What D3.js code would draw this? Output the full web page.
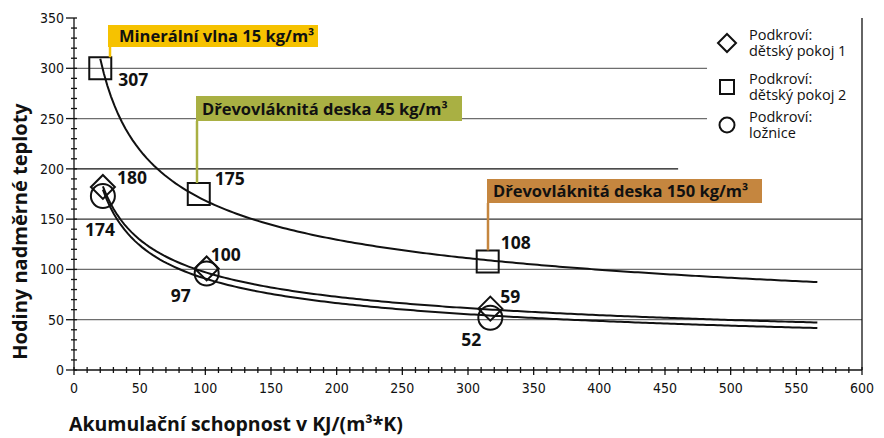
<!DOCTYPE html>
<html>
<head>
<meta charset="utf-8">
<script src="https://cdn.jsdelivr.net/npm/d3@7"></script>
<style>
  body { margin: 0; background: #fff; }
  svg { display: block; }
  .tick-label { font-family: 'Liberation Sans Narrow', 'DejaVu Sans Condensed', sans-serif; font-size: 14px; fill: #111; }
  .bold { font-family: 'Open Sans', 'Noto Sans', sans-serif; font-weight: bold; fill: #111; }
  .legend { font-family: 'Open Sans', 'Noto Sans', sans-serif; font-size: 14.5px; fill: #111; }
</style>
</head>
<body>
<div id="chart"></div>
<script>
// accumulation capacity (x) and hours of overheating (y)
const xTicks = [0, 50, 100, 150, 200, 250, 300, 350, 400, 450, 500, 550, 600]
const yTicks = [0, 50, 100, 150, 200, 250, 300, 350]

const seriesNames = [
  ['Podkroví:', 'dětský pokoj 1'],
  ['Podkroví:', 'dětský pokoj 2'],
  ['Podkroví:', 'ložnice']
]
const seriesShapes = ['diamond', 'square', 'circle']

// dětský pokoj 1
const room1X = [22, 101, 317]
const room1Y = [180, 100, 59]
const room1Drawn = [182, 101, 61]
// dětský pokoj 2
const room2X = [20, 95, 315]
const room2Y = [307, 175, 108]
const room2Drawn = [300, 175, 108]
// ložnice
const bedroomX = [22, 101, 317]
const bedroomY = [174, 97, 52]
const bedroomDrawn = [173, 96, 52]

const trendEnd = 566

const materials = ['Minerální vlna 15 kg/m³', 'Dřevovláknitá deska 45 kg/m³', 'Dřevovláknitá deska 150 kg/m³']
const materialColors = ['#f6c200', '#a9b043', '#c5863f']

const W = 884, H = 438
const x = d3.scaleLinear().domain([0, 600]).range([74, 862])
const y = d3.scaleLinear().domain([0, 350]).range([370, 18])

const svg = d3.select('#chart').append('svg').attr('width', W).attr('height', H)

// horizontal gridlines (upper ones stop where the legend sits)
const gridEnd = { 300: 482, 250: 482, 200: 460 }
const gridColor = { 200: '#111', 150: '#333' }
svg.append('g')
  .selectAll('line')
  .data(yTicks.filter(d => d > 0 && d < 350))
  .join('line')
  .attr('x1', x(0))
  .attr('x2', d => x(gridEnd[d] || 600))
  .attr('y1', d => y(d))
  .attr('y2', d => y(d))
  .attr('stroke', d => gridColor[d] || '#6e6e6e')
  .attr('stroke-width', 1.3)

// right frame
svg.append('line')
  .attr('x1', x(600)).attr('x2', x(600))
  .attr('y1', y(350)).attr('y2', y(0))
  .attr('stroke', '#111').attr('stroke-width', 1.3)

// y axis with minor ticks every 10
const yAxis = svg.append('g').attr('stroke', '#111').attr('stroke-width', 1.3)
yAxis.append('line').attr('x1', x(0)).attr('x2', x(0)).attr('y1', y(350)).attr('y2', y(0))
yAxis.selectAll('.minor')
  .data(d3.range(0, 351, 10))
  .join('line')
  .attr('x1', d => x(0) - (d % 50 === 0 ? 8 : 3))
  .attr('x2', x(0) + 3)
  .attr('y1', d => y(d)).attr('y2', d => y(d))
svg.append('g')
  .selectAll('text')
  .data(yTicks)
  .join('text')
  .attr('class', 'tick-label')
  .attr('x', x(0) - 10)
  .attr('y', d => y(d) + 5)
  .attr('text-anchor', 'end')
  .text(d => d)

// x axis
const xAxis = svg.append('g').attr('stroke', '#111').attr('stroke-width', 1.3)
xAxis.append('line').attr('x1', x(0)).attr('x2', x(600)).attr('y1', y(0)).attr('y2', y(0))
xAxis.selectAll('.minor')
  .data(d3.range(0, 601, 10))
  .join('line')
  .attr('x1', d => x(d)).attr('x2', d => x(d))
  .attr('y1', y(0) - 3)
  .attr('y2', d => y(0) + (d % 50 === 0 ? 5 : 3))
svg.append('g')
  .selectAll('text')
  .data(xTicks)
  .join('text')
  .attr('class', 'tick-label')
  .attr('x', d => x(d))
  .attr('y', 393)
  .attr('text-anchor', 'middle')
  .text(d => d)

// axis titles
svg.append('text')
  .attr('class', 'bold')
  .attr('font-size', 20)
  .attr('transform', `translate(27,${(y(0) + 93) / 2}) rotate(-90)`)
  .attr('text-anchor', 'middle')
  .text('Hodiny nadměrné teploty')
svg.append('text')
  .attr('class', 'bold')
  .attr('font-size', 19.5)
  .attr('x', 69)
  .attr('y', 431)
  .text('Akumulační schopnost v KJ/(m³*K)')

// power trendline fitted on log-log values, like a spreadsheet trendline
const powerFit = (xs, ys) => {
  const lx = xs.map(Math.log), ly = ys.map(Math.log)
  const mx = d3.mean(lx), my = d3.mean(ly)
  const b = d3.sum(lx, (v, i) => (v - mx) * (ly[i] - my)) / d3.sum(lx, v => (v - mx) ** 2)
  const a = Math.exp(my - b * mx)
  return v => a * Math.pow(v, b)
}
const line = d3.line().x(d => x(d[0])).y(d => y(d[1]))
const trendSeries = [[room1X, room1Y], [room2X, room2Y], [bedroomX, bedroomY]]
svg.append('g')
  .selectAll('path')
  .data(trendSeries)
  .join('path')
  .attr('fill', 'none')
  .attr('stroke', '#111')
  .attr('stroke-width', 2)
  .attr('d', ([xs, ys]) => {
    const f = powerFit(xs, ys)
    const start = xs[0]
    const pts = d3.range(0, 201).map(i => {
      const v = start + (trendEnd - start) * (i / 200)
      return [v, f(v)]
    })
    return line(pts)
  })

// markers
const shapePath = (shape, s) => {
  if (shape === 'diamond') return `M0,${-s}L${s},0L0,${s}L${-s},0Z`
  if (shape === 'square') return `M${-s},${-s}H${s}V${s}H${-s}Z`
  return `M${s},0A${s},${s} 0 1,1 ${-s},0A${s},${s} 0 1,1 ${s},0Z`
}
const markerSize = { diamond: 12, square: 11, circle: 12 }
const markerSets = [
  { shape: 'circle', xs: bedroomX, drawn: bedroomDrawn },
  { shape: 'diamond', xs: room1X, drawn: room1Drawn },
  { shape: 'square', xs: room2X, drawn: room2Drawn }
]
markerSets.forEach(m => {
  svg.append('g')
    .selectAll('path')
    .data(m.xs.map((v, i) => [v, m.drawn[i]]))
    .join('path')
    .attr('transform', d => `translate(${x(d[0])},${y(d[1])})`)
    .attr('d', shapePath(m.shape, markerSize[m.shape]))
    .attr('fill', 'none')
    .attr('stroke', '#111')
    .attr('stroke-width', 2)
})

// value labels, offsets in px from each marker
const labelSets = [
  { xs: room2X, drawn: room2Drawn, vals: room2Y, off: [[18, 18], [16, -9], [13, -12]] },
  { xs: room1X, drawn: room1Drawn, vals: room1Y, off: [[14, -3], [4, -7], [10, -6]] },
  { xs: bedroomX, drawn: bedroomDrawn, vals: bedroomY, off: [[-18, 40], [-36, 29], [-29, 28]] }
]
labelSets.forEach(s => {
  svg.append('g')
    .selectAll('text')
    .data(s.vals)
    .join('text')
    .attr('class', 'bold')
    .attr('font-size', 17.5)
    .attr('x', (d, i) => x(s.xs[i]) + s.off[i][0])
    .attr('y', (d, i) => y(s.drawn[i]) + s.off[i][1])
    .text(d => d)
})

// material callouts pointing at the square markers
const callouts = [
  { left: 108, right: 318, top: 25, bottom: 47, pad: 11, lead: 2 },
  { left: 196, right: 462, top: 96, bottom: 121, pad: 6, lead: 1 },
  { left: 487, right: 762, top: 179, bottom: 203, pad: 6, lead: 1 }
]
callouts.forEach((c, i) => {
  const g = svg.append('g')
  g.append('line')
    .attr('x1', c.left + c.lead).attr('x2', c.left + c.lead)
    .attr('y1', c.bottom)
    .attr('y2', y(room2Drawn[i]) - markerSize.square)
    .attr('stroke', materialColors[i])
    .attr('stroke-width', 2.5)
  g.append('rect')
    .attr('x', c.left).attr('y', c.top)
    .attr('width', c.right - c.left).attr('height', c.bottom - c.top)
    .attr('fill', materialColors[i])
  g.append('text')
    .attr('class', 'bold')
    .attr('font-size', 16.5)
    .attr('x', c.left + c.pad)
    .attr('y', (c.top + c.bottom) / 2 + 6)
    .text(materials[i])
})

// legend
const legend = svg.append('g').attr('transform', 'translate(727,0)')
const legendY = [43, 87, 125]
const legendSize = { diamond: 9, square: 7, circle: 7.5 }
seriesNames.forEach((name, i) => {
  const shape = seriesShapes[i]
  legend.append('path')
    .attr('transform', `translate(0,${legendY[i]})`)
    .attr('d', shapePath(shape, legendSize[shape]))
    .attr('fill', 'none')
    .attr('stroke', '#111')
    .attr('stroke-width', 2)
  legend.selectAll(`.l${i}`)
    .data(name)
    .join('text')
    .attr('class', 'legend')
    .attr('x', 22)
    .attr('y', (d, j) => legendY[i] - 3 + j * 16)
    .text(d => d)
})
</script>
</body>
</html>
